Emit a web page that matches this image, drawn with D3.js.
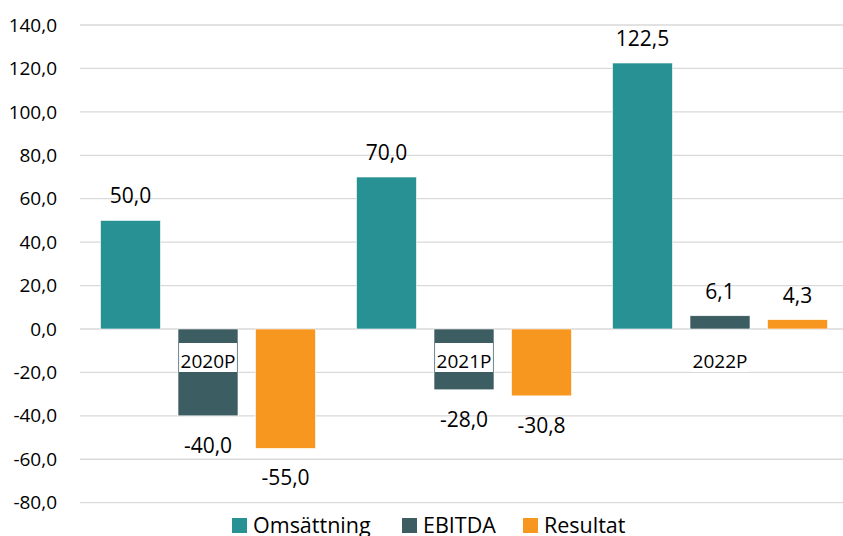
<!DOCTYPE html>
<html>
<head>
<meta charset="utf-8">
<script src="https://cdn.jsdelivr.net/npm/d3@7"></script>
<style>
  html, body { margin: 0; padding: 0; background: #fff; }
  svg { display: block; font-family: "Open Sans", "Noto Sans", sans-serif; }
</style>
</head>
<body>
<script>
const categories = ["2020P", "2021P", "2022P"];
const seriesNames = ["Omsättning", "EBITDA", "Resultat"];
const omsattning = [50.0, 70.0, 122.5];
const ebitda = [-40.0, -28.0, 6.1];
const resultat = [-55.0, -30.8, 4.3];
const yTicks = [140, 120, 100, 80, 60, 40, 20, 0, -20, -40, -60, -80];

const colors = { "Omsättning": "#289194", "EBITDA": "#3c5e62", "Resultat": "#f7971f" };
const seriesValues = { "Omsättning": omsattning, "EBITDA": ebitda, "Resultat": resultat };

const width = 843, height = 536;
const plotLeft = 80, plotRight = 848, plotTop = 25, plotBottom = 502.7;

const locale = d3.formatLocale({ decimal: ",", thousands: " ", grouping: [3], currency: ["", " kr"], minus: "-" });
const fmt = locale.format(".1f");

const svg = d3.select("body").append("svg")
  .attr("width", width).attr("height", height)
  .attr("viewBox", `0 0 ${width} ${height}`);

const y = d3.scaleLinear().domain([-80, 140]).range([plotBottom, plotTop]);
const x0 = d3.scaleBand().domain(categories).range([plotLeft, plotRight]).paddingInner(0).paddingOuter(0);
const x1 = d3.scaleBand().domain(seriesNames).range([0, x0.bandwidth()])
  .paddingInner(0.226).paddingOuter(0.2645);

// gridlines
svg.append("g").selectAll("line")
  .data(yTicks)
  .join("line")
  .attr("x1", plotLeft).attr("x2", plotRight)
  .attr("y1", (d) => y(d)).attr("y2", (d) => y(d))
  .attr("stroke", "#d9d9d9").attr("stroke-width", 1.3);

// y tick labels
svg.append("g").selectAll("text")
  .data(yTicks)
  .join("text")
  .attr("x", 57).attr("y", (d) => y(d))
  .attr("dy", "0.35em")
  .attr("text-anchor", "end")
  .style("font-size", "19px")
  .attr("fill", "#000")
  .text((d) => fmt(d));

// bars
const rows = [];
categories.forEach((c, i) => {
  seriesNames.forEach((s) => rows.push({ cat: c, series: s, value: seriesValues[s][i] }));
});

const g = svg.append("g");
g.selectAll("rect")
  .data(rows)
  .join("rect")
  .attr("x", (d) => x0(d.cat) + x1(d.series))
  .attr("width", x1.bandwidth())
  .attr("y", (d) => y(Math.max(0, d.value)))
  .attr("height", (d) => Math.abs(y(d.value) - y(0)))
  .attr("fill", (d) => colors[d.series])
  .attr("stroke", "#fff").attr("stroke-width", 0.6);

// value labels
g.selectAll("text.val")
  .data(rows)
  .join("text")
  .attr("class", "val")
  .attr("x", (d) => x0(d.cat) + x1(d.series) + x1.bandwidth() / 2)
  .attr("y", (d) => d.value >= 0 ? y(d.value) - 17 : y(d.value) + 37)
  .attr("text-anchor", "middle")
  .style("font-size", "21px")
  .attr("fill", "#000")
  .text((d) => fmt(d.value));

// category labels with white background
const labelBase = 367.5;
categories.forEach((c) => {
  const cx = x0(c) + x0.bandwidth() / 2;
  const lg = svg.append("g");
  const t = lg.append("text")
    .attr("x", cx).attr("y", labelBase)
    .attr("text-anchor", "middle")
    .style("font-size", "19px")
    .attr("fill", "#000")
    .text(c);
  const b = t.node().getBBox();
  lg.insert("rect", "text")
    .attr("x", b.x - 1.5).attr("y", labelBase - 24.5)
    .attr("width", b.width + 3).attr("height", 29)
    .attr("fill", "#fff");
});

// legend
const legendX = [232, 402, 523];
const legend = svg.append("g");
seriesNames.forEach((s, i) => {
  legend.append("rect")
    .attr("x", legendX[i]).attr("y", 518)
    .attr("width", 15).attr("height", 15)
    .attr("fill", colors[s]);
  legend.append("text")
    .attr("x", legendX[i] + 21).attr("y", 532.5)
    .style("font-size", "21.5px")
    .attr("fill", "#000")
    .text(s);
});
</script>
</body>
</html>
